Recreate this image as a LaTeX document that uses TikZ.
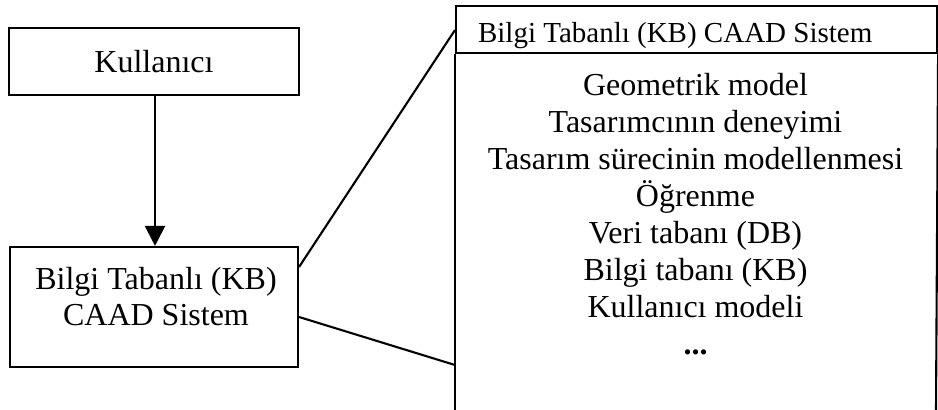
\documentclass[tikz,border=0pt]{standalone}
\usepackage{fontspec}
\setmainfont{Liberation Serif}
\usetikzlibrary{arrows.meta}
\begin{document}
\begin{tikzpicture}[x=1pt,y=-1pt,
  line width=2.1pt,
  box/.style={draw, rectangle, inner sep=0pt},
  txt/.style={inner sep=0pt, align=center, font=\fontsize{32}{36}\selectfont},
  listtxt/.style={inner sep=0pt, align=center, font=\fontsize{32}{37}\selectfont},
  hdrbox/.style={draw, rectangle, inner sep=0pt, anchor=north west, minimum width=481pt, minimum height=47pt},
  conn/.style={line width=2.1pt},
  arr/.style={-{Triangle[length=20pt,width=20pt]}}
]
\useasboundingbox (0,0) rectangle (938,410);
% left boxes
\node[box, minimum width=290pt, minimum height=67pt, font=\fontsize{32}{36}\selectfont] (user) at (154,61.5) {Kullanıcı};
\node[box, minimum width=288pt, minimum height=120pt] (kb) at (154,307) {};
\node[txt] (kbt) at (156,297) {Bilgi Tabanlı (KB)\\CAAD Sistem};
% arrow
\draw[arr] ([xshift=1pt]user.south) -- ([xshift=1pt]user.south |- kb.north);
% right box
\node[hdrbox] (hdr) at (455,5) {};
\node[inner sep=0pt, anchor=base west, font=\fontsize{29}{34}\selectfont] (hdrt) at (477,42) {Bilgi Tabanlı (KB) CAAD Sistem};
\coordinate (bl) at (455,410);
\coordinate (br) at (936,410);
\draw (hdr.south west) -- (bl);
\draw (hdr.south east) -- (br);
\node[listtxt, anchor=north] (list) at (695.5,72) {Geometrik model\\Tasarımcının deneyimi\\Tasarım sürecinin modellenmesi\\Öğrenme\\Veri tabanı (DB)\\Bilgi tabanı (KB)\\Kullanıcı modeli\\\textbf{...}};
% connectors
\coordinate (c1) at (455,30);
\coordinate (c2) at (455,365);
\draw[conn] ([yshift=40pt]kb.east) -- (c1);
\draw[conn] ([yshift=-10pt]kb.east) -- (c2);
\end{tikzpicture}
\end{document}
